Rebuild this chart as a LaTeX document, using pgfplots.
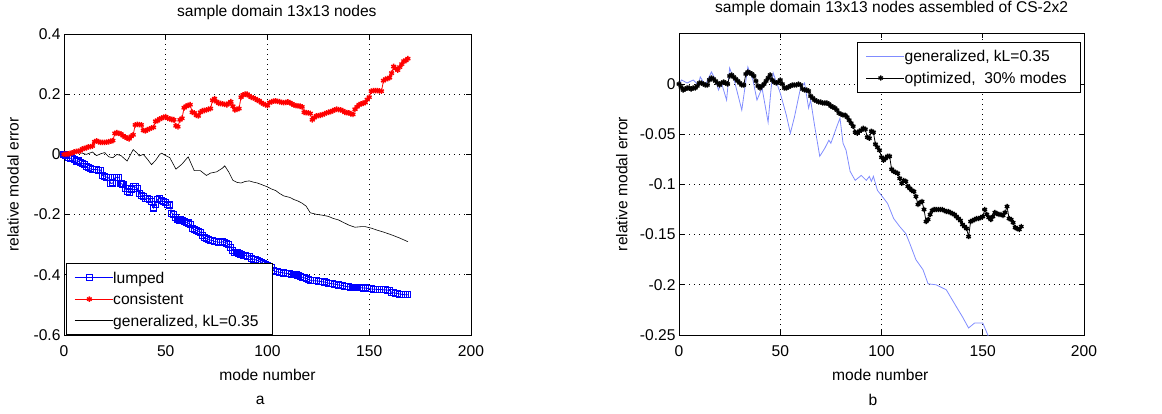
\documentclass[border=0pt]{standalone}
\usepackage{fontspec}
\setmainfont{Liberation Sans}
\usepackage{pgfplots}
\pgfplotsset{compat=1.18}
\definecolor{mblue}{rgb}{0,0,1}
\definecolor{mred}{rgb}{1,0,0}
\definecolor{lblue}{rgb}{0.5,0.55,1}
\pgfplotsset{
  matlab/.style={
    scale only axis,
    anchor=south west,
    font=\fontsize{15.6}{18}\selectfont,
    /pgf/number format/assume math mode=true,
    tick align=inside,
    major tick length=5pt,
    xtick pos=both, ytick pos=both,
    axis line style={line width=0.8pt},
    every tick/.style={line width=0.8pt, black},
    grid=major,
    major grid style={black, line width=0.8pt, dash pattern=on 1pt off 4pt},
    xmin=0, xmax=200, xtick={0,50,100,150,200},
    xticklabel style={yshift=-7pt},
    legend cell align=left,
    legend style={draw=black, line width=0.8pt, fill=white, inner xsep=8pt, inner ysep=5.5pt,
      row sep=4.5pt,
      nodes={inner xsep=0pt, inner ysep=0pt, text height=14pt, text depth=3pt}},
    legend image code/.code={
      \draw[mark repeat=2,mark phase=2,##1] plot coordinates {(0pt,0pt) (14.5pt,0pt) (29pt,0pt)};
      \path (0pt,0pt) -- (38pt,0pt);
    },
  }
}
\pgfplotstableread[row sep=\\]{
m v\\
0 0\\ 1 -0.004\\ 2 -0.01\\ 3 -0.012\\ 4 -0.015\\ 5 -0.018\\ 6 -0.022\\ 7 -0.022\\ 8 -0.028\\ 9 -0.03\\
10 -0.035\\ 11 -0.04\\ 12 -0.045\\ 13 -0.048\\ 14 -0.05\\ 15 -0.05\\ 16 -0.05\\ 17 -0.052\\ 18 -0.052\\ 19 -0.07\\
20 -0.072\\ 21 -0.076\\ 22 -0.078\\ 23 -0.097\\ 24 -0.095\\ 25 -0.078\\ 26 -0.076\\ 27 -0.076\\ 28 -0.097\\ 29 -0.1\\
30 -0.112\\ 31 -0.124\\ 32 -0.128\\ 33 -0.115\\ 34 -0.108\\ 35 -0.108\\ 36 -0.112\\ 37 -0.13\\ 38 -0.138\\ 39 -0.14\\
40 -0.146\\ 41 -0.146\\ 42 -0.15\\ 43 -0.157\\ 44 -0.178\\ 45 -0.165\\ 46 -0.15\\ 47 -0.146\\ 48 -0.152\\ 49 -0.157\\
50 -0.16\\ 51 -0.165\\ 52 -0.168\\ 53 -0.195\\ 54 -0.2\\ 55 -0.21\\ 56 -0.215\\ 57 -0.218\\ 58 -0.22\\ 59 -0.222\\
60 -0.225\\ 61 -0.228\\ 62 -0.232\\ 63 -0.245\\ 64 -0.25\\ 65 -0.252\\ 66 -0.255\\ 67 -0.258\\ 68 -0.27\\ 69 -0.276\\
70 -0.28\\ 71 -0.282\\ 72 -0.285\\ 73 -0.286\\ 74 -0.29\\ 75 -0.29\\ 76 -0.292\\ 77 -0.292\\ 78 -0.29\\ 79 -0.292\\
80 -0.295\\ 81 -0.3\\ 82 -0.31\\ 83 -0.318\\ 84 -0.325\\ 85 -0.326\\ 86 -0.33\\ 87 -0.332\\ 88 -0.335\\ 89 -0.335\\
90 -0.338\\ 91 -0.34\\ 92 -0.345\\ 93 -0.348\\ 94 -0.35\\ 95 -0.352\\ 96 -0.355\\ 97 -0.358\\ 98 -0.362\\ 99 -0.365\\
100 -0.37\\ 101 -0.372\\ 102 -0.375\\ 103 -0.385\\ 104 -0.39\\ 105 -0.39\\ 106 -0.392\\ 107 -0.392\\ 108 -0.394\\ 109 -0.395\\
110 -0.396\\ 111 -0.397\\ 112 -0.398\\ 113 -0.399\\ 114 -0.4\\ 115 -0.402\\ 116 -0.405\\ 117 -0.408\\ 118 -0.41\\ 119 -0.412\\
120 -0.415\\ 121 -0.418\\ 122 -0.42\\ 123 -0.42\\ 124 -0.42\\ 125 -0.421\\ 126 -0.422\\ 127 -0.423\\ 128 -0.424\\ 129 -0.426\\
130 -0.428\\ 131 -0.429\\ 132 -0.43\\ 133 -0.431\\ 134 -0.432\\ 135 -0.434\\ 136 -0.435\\ 137 -0.436\\ 138 -0.438\\ 139 -0.439\\
140 -0.44\\ 141 -0.441\\ 142 -0.442\\ 143 -0.442\\ 144 -0.443\\ 145 -0.443\\ 146 -0.443\\ 147 -0.444\\ 148 -0.444\\ 149 -0.445\\
150 -0.446\\ 151 -0.447\\ 152 -0.448\\ 153 -0.448\\ 154 -0.449\\ 155 -0.449\\ 156 -0.449\\ 157 -0.45\\ 158 -0.45\\ 159 -0.451\\
160 -0.452\\ 161 -0.458\\ 162 -0.46\\ 163 -0.461\\ 164 -0.462\\ 165 -0.464\\ 166 -0.465\\ 167 -0.466\\ 168 -0.466\\ 169 -0.466\\
}\lumped
\pgfplotstableread[row sep=\\]{
m v\\
0 0\\ 1 0.001\\ 2 0.002\\ 3 0.003\\ 4 0.005\\ 5 0.008\\ 6 0.01\\ 7 0.011\\ 8 0.012\\ 9 0.018\\
10 0.02\\ 11 0.022\\ 12 0.025\\ 13 0.026\\ 14 0.028\\ 15 0.042\\ 16 0.045\\ 17 0.042\\ 18 0.04\\ 19 0.04\\
20 0.04\\ 21 0.041\\ 22 0.042\\ 23 0.044\\ 24 0.046\\ 25 0.07\\ 26 0.072\\ 27 0.07\\ 28 0.068\\ 29 0.062\\
30 0.058\\ 31 0.054\\ 32 0.052\\ 33 0.06\\ 34 0.065\\ 35 0.098\\ 36 0.1\\ 37 0.099\\ 38 0.098\\ 39 0.08\\
40 0.078\\ 41 0.082\\ 42 0.085\\ 43 0.088\\ 44 0.09\\ 45 0.11\\ 46 0.112\\ 47 0.118\\ 48 0.12\\ 49 0.124\\
50 0.125\\ 51 0.12\\ 52 0.118\\ 53 0.116\\ 54 0.115\\ 55 0.095\\ 56 0.092\\ 57 0.115\\ 58 0.12\\ 59 0.155\\
60 0.16\\ 61 0.163\\ 62 0.165\\ 63 0.14\\ 64 0.138\\ 65 0.13\\ 66 0.128\\ 67 0.14\\ 68 0.145\\ 69 0.146\\
70 0.148\\ 71 0.15\\ 72 0.152\\ 73 0.18\\ 74 0.185\\ 75 0.175\\ 76 0.17\\ 77 0.169\\ 78 0.168\\ 79 0.166\\
80 0.165\\ 81 0.17\\ 82 0.175\\ 83 0.16\\ 84 0.148\\ 85 0.15\\ 86 0.152\\ 87 0.19\\ 88 0.198\\ 89 0.2\\
90 0.2\\ 91 0.195\\ 92 0.19\\ 93 0.188\\ 94 0.185\\ 95 0.18\\ 96 0.178\\ 97 0.172\\ 98 0.168\\ 99 0.165\\
100 0.162\\ 101 0.172\\ 102 0.175\\ 103 0.177\\ 104 0.178\\ 105 0.176\\ 106 0.175\\ 107 0.173\\ 108 0.172\\ 109 0.173\\
110 0.174\\ 111 0.172\\ 112 0.168\\ 113 0.164\\ 114 0.162\\ 115 0.161\\ 116 0.16\\ 117 0.158\\ 118 0.14\\ 119 0.139\\
120 0.138\\ 121 0.136\\ 122 0.115\\ 123 0.122\\ 124 0.128\\ 125 0.129\\ 126 0.13\\ 127 0.132\\ 128 0.135\\ 129 0.138\\
130 0.14\\ 131 0.142\\ 132 0.145\\ 133 0.148\\ 134 0.15\\ 135 0.149\\ 136 0.148\\ 137 0.145\\ 138 0.14\\ 139 0.139\\
140 0.138\\ 141 0.135\\ 142 0.133\\ 143 0.15\\ 144 0.158\\ 145 0.165\\ 146 0.168\\ 147 0.17\\ 148 0.172\\ 149 0.182\\
150 0.19\\ 151 0.21\\ 152 0.212\\ 153 0.212\\ 154 0.212\\ 155 0.211\\ 156 0.21\\ 157 0.245\\ 158 0.25\\ 159 0.252\\
160 0.255\\ 161 0.27\\ 162 0.292\\ 163 0.285\\ 164 0.28\\ 165 0.29\\ 166 0.3\\ 167 0.31\\ 168 0.312\\ 169 0.318\\
}\consistent
\pgfplotstableread[row sep=\\]{
m v\\
0 0\\ 1 -0.003\\ 2 -0.006\\ 3 -0.005\\ 4 -0.004\\ 5 -0.004\\ 6 -0.005\\ 7 -0.004\\ 8 -0.004\\ 9 -0.002\\
10 0.001\\ 11 0.001\\ 12 0.0\\ 13 -0.001\\ 14 -0.001\\ 15 0.004\\ 16 0.006\\ 17 0.005\\ 18 0.003\\ 19 0.001\\
20 -0.001\\ 21 0.001\\ 22 0.002\\ 23 0.001\\ 24 0.0\\ 25 0.008\\ 26 0.009\\ 27 0.007\\ 28 0.005\\ 29 0.003\\
30 0.001\\ 31 -0.001\\ 32 -0.001\\ 33 0.01\\ 34 0.012\\ 35 0.011\\ 36 0.01\\ 37 0.008\\ 38 0.003\\ 39 -0.002\\
40 -0.004\\ 41 -0.002\\ 42 0.0\\ 43 0.003\\ 44 0.006\\ 45 0.009\\ 46 0.004\\ 47 0.002\\ 48 0.001\\ 49 0.002\\
50 0.004\\ 51 0.0\\ 52 -0.004\\ 53 -0.004\\ 54 -0.003\\ 55 -0.002\\ 56 -0.001\\ 57 -0.001\\ 58 -0.001\\ 59 0.0\\
60 -0.001\\ 61 -0.005\\ 62 -0.006\\ 63 -0.006\\ 64 -0.007\\ 65 -0.012\\ 66 -0.014\\ 67 -0.016\\ 68 -0.017\\ 69 -0.018\\
70 -0.018\\ 71 -0.019\\ 72 -0.019\\ 73 -0.019\\ 74 -0.02\\ 75 -0.022\\ 76 -0.023\\ 77 -0.024\\ 78 -0.026\\ 79 -0.029\\
80 -0.03\\ 81 -0.031\\ 82 -0.031\\ 83 -0.033\\ 84 -0.036\\ 85 -0.039\\ 86 -0.042\\ 87 -0.048\\ 88 -0.049\\ 89 -0.047\\
90 -0.046\\ 91 -0.044\\ 92 -0.045\\ 93 -0.053\\ 94 -0.054\\ 95 -0.047\\ 96 -0.048\\ 97 -0.06\\ 98 -0.063\\ 99 -0.066\\
100 -0.073\\ 101 -0.076\\ 102 -0.074\\ 103 -0.072\\ 104 -0.072\\ 105 -0.085\\ 106 -0.087\\ 107 -0.088\\ 108 -0.089\\ 109 -0.094\\
110 -0.099\\ 111 -0.096\\ 112 -0.097\\ 113 -0.102\\ 114 -0.104\\ 115 -0.106\\ 116 -0.107\\ 117 -0.112\\ 118 -0.12\\ 119 -0.118\\
120 -0.117\\ 121 -0.125\\ 122 -0.137\\ 123 -0.135\\ 124 -0.13\\ 125 -0.126\\ 126 -0.125\\ 127 -0.125\\ 128 -0.125\\ 129 -0.125\\
130 -0.125\\ 131 -0.126\\ 132 -0.127\\ 133 -0.127\\ 134 -0.128\\ 135 -0.129\\ 136 -0.13\\ 137 -0.132\\ 138 -0.134\\ 139 -0.136\\
140 -0.14\\ 141 -0.142\\ 142 -0.144\\ 143 -0.152\\ 144 -0.137\\ 145 -0.136\\ 146 -0.135\\ 147 -0.134\\ 148 -0.134\\ 149 -0.133\\
150 -0.132\\ 151 -0.125\\ 152 -0.13\\ 153 -0.133\\ 154 -0.135\\ 155 -0.132\\ 156 -0.128\\ 157 -0.129\\ 158 -0.13\\ 159 -0.13\\
160 -0.131\\ 161 -0.128\\ 162 -0.122\\ 163 -0.134\\ 164 -0.135\\ 165 -0.138\\ 166 -0.143\\ 167 -0.144\\ 168 -0.145\\ 169 -0.142\\
}\optimized
\begin{document}
\begin{tikzpicture}
\useasboundingbox (0,0) rectangle (1162pt,413pt);
% ---------------- left panel ----------------
\begin{axis}[matlab,
  at={(64pt,78pt)}, width=407pt, height=301pt,
  ymin=-0.6, ymax=0.4, ytick={-0.6,-0.4,-0.2,0,0.2,0.4},
  yticklabels={-0.6,-0.4,-0.2,0,0.2,0.4},
  title={sample domain 13x13 nodes},
  title style={at={(axis description cs:0.523,1.053)}, anchor=center},
  xlabel={mode number},
  xlabel style={at={(axis description cs:0.5,-0.133)}, anchor=center},
  ylabel={relative modal error},
  ylabel style={at={(axis description cs:-0.125,0.5)}, anchor=center, rotate=0},
  legend style={at={(0.005,0)}, anchor=south west},
  extra description/.code={\node[anchor=center] at (0.482,-0.216) {a};},
]
\addplot[mblue, line width=0.8pt, mark=square, mark size=3pt, mark options={line width=1.1pt}] table[x=m,y=v] {\lumped};
\addlegendentry{lumped\hspace*{6pt}}
\addplot[mred, line width=0.8pt, mark=asterisk, mark size=2.8pt, mark options={line width=1.4pt}] table[x=m,y=v] {\consistent};
\addlegendentry{consistent\hspace*{6pt}}
\addplot[black, line width=0.6pt] coordinates {
(0,0) (3,0.003) (6,0.006) (9,0.004) (11,0.0) (14,0.008) (16,-0.004) (18,0.002) (20,0.006)
(22,-0.008) (24,-0.011) (26,0.0) (28,-0.004) (31,-0.022) (34,0.016) (36,0.004) (37,-0.005)
(39,0.0) (41,-0.016) (43,-0.034) (45,-0.02) (47,0.0) (48,0.004) (50,-0.004) (52,-0.011)
(55,-0.049) (58,-0.032) (61,-0.008) (64,-0.054) (67,-0.054) (70,-0.07) (72,-0.062) (75,-0.058)
(78,-0.045) (79,-0.038) (81,-0.059) (83,-0.086) (85,-0.093) (87,-0.095) (89,-0.09) (91,-0.088)
(93,-0.092) (95,-0.095) (97,-0.1) (100,-0.108) (102,-0.115) (104,-0.12) (106,-0.13) (108,-0.138)
(111,-0.143) (113,-0.15) (115,-0.155) (117,-0.162) (119,-0.172) (121,-0.194) (124,-0.199)
(127,-0.202) (130,-0.206) (132,-0.212) (135,-0.218) (137,-0.225) (140,-0.235) (143,-0.242)
(146,-0.24) (148,-0.24) (151,-0.245) (154,-0.252) (157,-0.258) (160,-0.265) (162,-0.27)
(165,-0.278) (167,-0.284) (169,-0.29)
};
\addlegendentry{generalized, kL=0.35\hspace*{6pt}}
\end{axis}
% ---------------- right panel ----------------
\begin{axis}[matlab,
  at={(679pt,78pt)}, width=405pt, height=302pt,
  ymin=-0.25, ymax=0.0508, ytick={-0.25,-0.2,-0.15,-0.1,-0.05,0},
  yticklabels={-0.25,-0.2,-0.15,-0.1,-0.05,0},
  title={sample domain 13x13 nodes assembled of CS-2x2},
  title style={at={(axis description cs:0.525,1.063)}, anchor=center},
  xlabel={mode number},
  xlabel style={at={(axis description cs:0.497,-0.1325)}, anchor=center},
  ylabel={relative modal error},
  ylabel style={at={(axis description cs:-0.141,0.5)}, anchor=center, rotate=0},
  legend style={at={(0.993,0.97)}, anchor=north east},
  extra description/.code={\node[anchor=center] at (0.479,-0.215) {b};},
]
\addplot[lblue, line width=0.8pt] coordinates {
(0,0) (1.3,0.004) (4,0.001) (7,0.004) (9.5,-0.001) (10.5,0.007) (13,-0.001) (16,0.012)
(18,0.004) (19.5,-0.006) (21,0.001) (23.5,-0.016) (25,0.016) (27.5,0.002) (31,-0.026)
(34,0.017) (36.5,0.004) (38.5,-0.016) (41,-0.004) (44,-0.038) (45.5,-0.004) (46.5,0.011)
(50,-0.009) (53,-0.031) (55,-0.049) (57,-0.033) (60,-0.004) (62,0.001) (64,-0.024) (65,-0.016)
(67,-0.042) (69.5,-0.072) (72,-0.064) (74,-0.056) (75,-0.059) (78,-0.042) (79.5,-0.034)
(81,-0.059) (82.5,-0.066) (84.5,-0.087) (87,-0.096) (90,-0.091) (92.5,-0.096) (94,-0.092)
(95,-0.097) (96,-0.092) (98,-0.106) (100,-0.111) (103,-0.119) (106,-0.134) (109,-0.142)
(112,-0.149) (114,-0.159) (117,-0.175) (120.5,-0.185) (123,-0.199) (127,-0.2) (132,-0.205)
(137,-0.222) (140,-0.232) (143,-0.243) (146,-0.238) (150,-0.238) (152.5,-0.25) (155,-0.262)
};
\addlegendentry{generalized, kL=0.35\hspace*{6pt}}
\addplot[black, line width=0.8pt, mark=asterisk, mark size=2.6pt, mark options={line width=1.4pt}] table[x=m,y=v] {\optimized};
\addlegendentry{optimized,\ \ 30\% modes\hspace*{6pt}}
\end{axis}
\end{tikzpicture}
\end{document}
